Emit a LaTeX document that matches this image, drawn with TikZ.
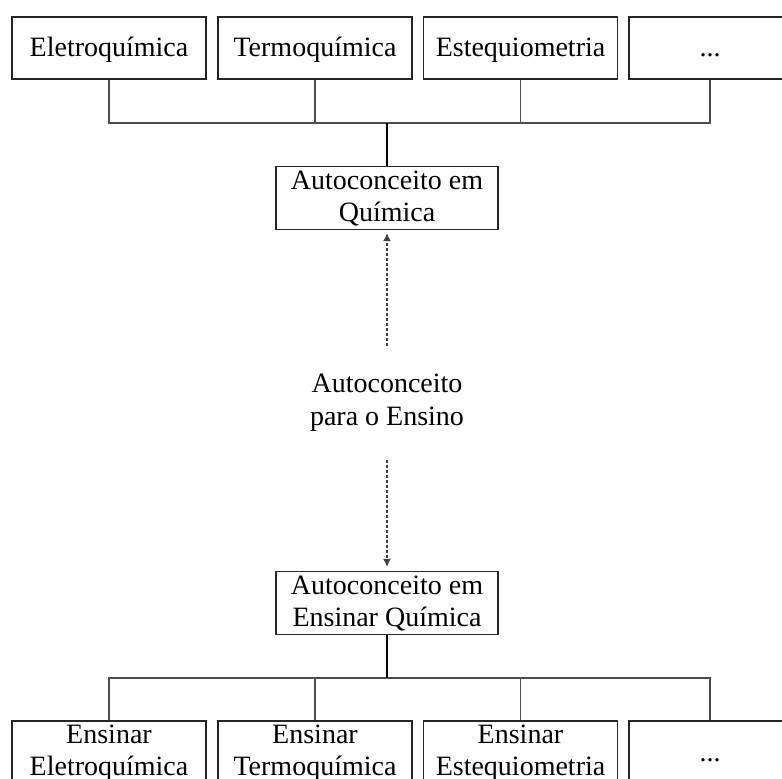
\documentclass[tikz,border=0pt]{standalone}
\usepackage{fontspec}
\setmainfont{Liberation Serif}
\usetikzlibrary{arrows.meta}
\begin{document}
\begin{tikzpicture}[x=1pt,y=-1pt,
  box/.style={draw=black!85, line width=1.2pt, minimum width=194pt, minimum height=62pt,
    inner sep=0pt, align=center, font=\fontsize{28}{32}\selectfont},
  single/.style={box, text height=19pt, text depth=3pt},
  wide/.style={box, minimum width=222pt, minimum height=63pt},
  label/.style={inner xsep=0pt, inner ysep=28pt, align=center, font=\fontsize{28}{33}\selectfont},
  branch/.style={draw=black!70, line width=1.2pt},
  trunk/.style={draw=black, line width=2.4pt},
  influence/.style={draw=black!75, line width=1.5pt, dash pattern=on 3pt off 2pt,
    -{Latex[length=8pt,width=8pt]}}
]
\useasboundingbox (0,0) rectangle (782,779);

% content areas
\node[single] (t1) at (109,48) {Eletroquímica};
\node[single] (t2) at (315,48) {Termoquímica};
\node[single] (t3) at (520.5,48) {Estequiometria};
\node[single, minimum width=162pt] (t4) at (710,48) {...};

% self-concept in chemistry
\node[wide] (q) at (387,198) {Autoconceito em\\Química};

% mediating construct
\node[label] (m) at (387,403) {Autoconceito\\para o Ensino};

% self-concept in teaching chemistry
\node[wide] (e) at (387,603) {Autoconceito em\\Ensinar Química};

% teaching areas
\node[box, minimum height=64pt] (b1) at (109,753) {Ensinar\\Eletroquímica};
\node[box, minimum height=64pt] (b2) at (315,753) {Ensinar\\Termoquímica};
\node[box, minimum height=64pt] (b3) at (520.5,753) {Ensinar\\Estequiometria};
\node[single, minimum height=64pt, minimum width=162pt] (b4) at (710,753) {...};

% tree connectors
\coordinate (topbus) at (387,123);
\coordinate (botbus) at (387,678);
\foreach \n in {t1,t2,t3,t4} \draw[branch] (\n.south) |- (topbus);
\foreach \n in {b1,b2,b3,b4} \draw[branch] (\n.north) |- (botbus);
\draw[trunk] (topbus) -- (q.north);
\draw[trunk] (e.south) -- (botbus);

% dashed influences
\draw[influence, shorten >=3pt] (m.north) -- (q.south);
\draw[influence, shorten >=4pt] (m.south) -- (e.north);
\end{tikzpicture}
\end{document}
